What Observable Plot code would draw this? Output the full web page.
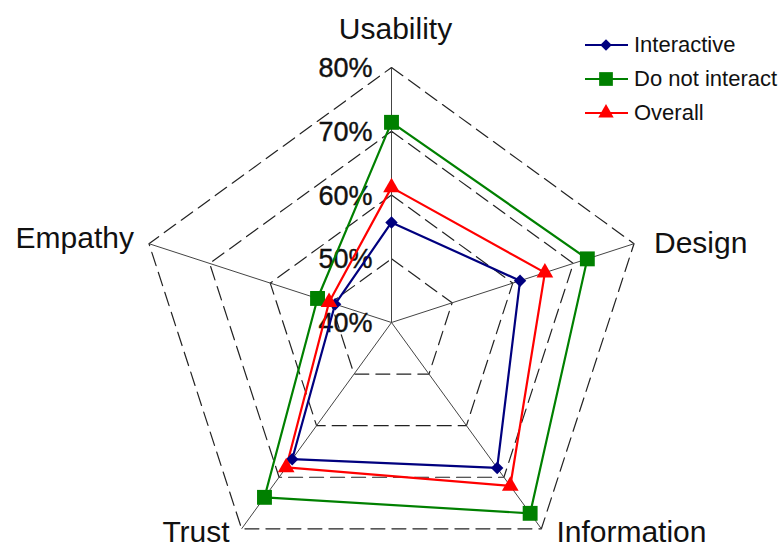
<!DOCTYPE html>
<html><head><meta charset="utf-8">
<script src="https://cdn.jsdelivr.net/npm/d3@7"></script>
<script src="https://cdn.jsdelivr.net/npm/@observablehq/plot@0.6"></script>
<style>
body{margin:0;background:#fff;}
#wrap{position:relative;width:782px;height:547px;overflow:hidden;font-family:"Liberation Sans",Arial,sans-serif;}
#legend{position:absolute;left:585px;top:28px;font-size:22px;color:#111;}
.item{display:flex;align-items:center;height:34px;white-space:nowrap;}
.item svg{margin-right:5px;}
</style></head><body><div id="wrap"><div id="chart"></div><div id="legend"></div></div>
<script>
// ---- data ----
const axes = ["Usability", "Design", "Information", "Trust", "Empathy"];
const interactive   = [55.7, 61.2, 68.2, 66.5, 49.3];
const doNotInteract = [71.4, 72.3, 77.0, 73.9, 52.2];
const overall       = [61.2, 65.3, 71.7, 68.1, 50.3];
const seriesNames = ["Interactive", "Do not interact", "Overall"];
const tickValues = [40, 50, 60, 70, 80];
const tickLabels = ["40%", "50%", "60%", "70%", "80%"];

// ---- layout / style ----
const W = 782, H = 547, cx = 391, cy = 322, k = 6.375, rMin = 40, rMax = 80;
const colors = ["#00007f", "#008000", "#ff0000"];
const symbols = ["diamond2", "square", "triangle"];
const dotR = [5.6, 8.4, 6.2];
const ang = i => i * 2 * Math.PI / axes.length;
const px = (v, i) => (v - rMin) * Math.sin(ang(i));
const py = (v, i) => (v - rMin) * Math.cos(ang(i));

const seriesValues = [interactive, doNotInteract, overall];
const rows = seriesNames.flatMap((s, si) => seriesValues[si].map((v, i) => ({series: s, axis: axes[i], i, v})));
const grid = tickValues.filter(t => t > rMin).flatMap(t => axes.map((a, i) => ({level: t, i})));
const axisRows = axes.map((a, i) => ({axis: a, i}));

const labelStyle = {
  "Usability":   {textAnchor: "middle", dx: 4,   dy: -38},
  "Design":      {textAnchor: "start",  dx: 20,  dy: 0},
  "Information": {textAnchor: "start",  dx: 15,  dy: 4},
  "Trust":       {textAnchor: "end",    dx: -12, dy: 4},
  "Empathy":     {textAnchor: "end",    dx: -15, dy: -5}
};

const marks = [
  Plot.line(grid, {x: d => px(d.level, d.i), y: d => py(d.level, d.i), z: "level", curve: "linear-closed",
    stroke: "#222", strokeWidth: 1.2, strokeDasharray: "14,7"}),
  Plot.link(axisRows, {x1: 0, y1: 0, x2: d => px(rMax, d.i), y2: d => py(rMax, d.i), stroke: "#444", strokeWidth: 1}),
  Plot.text(tickValues, {x: 0, y: v => v - rMin, text: (v, j) => tickLabels[j], textAnchor: "end", dx: -19, dy: 1,
    fontSize: 27, fill: "#111", stroke: "#111", strokeWidth: 0.4}),
  ...axisRows.map(d => Plot.text([d], {x: e => px(rMax, e.i), y: e => py(rMax, e.i), text: "axis",
    fontSize: 30, fill: "#111", lineAnchor: "middle", ...labelStyle[d.axis]})),
  Plot.line(rows, {x: d => px(d.v, d.i), y: d => py(d.v, d.i), z: "series", stroke: "series",
    curve: "linear-closed", strokeWidth: 2.2}),
  ...seriesNames.map((s, si) => Plot.dot(rows.filter(d => d.series === s),
    {x: d => px(d.v, d.i), y: d => py(d.v, d.i), symbol: "series", fill: "series", r: dotR[si]}))
];

const chart = Plot.plot({
  width: W, height: H, margin: 0,
  x: {domain: [-cx / k, (W - cx) / k], axis: null},
  y: {domain: [-(H - cy) / k, cy / k], axis: null},
  color: {domain: seriesNames, range: colors},
  symbol: {domain: seriesNames, range: symbols},
  style: {fontFamily: "'Liberation Sans', Arial, sans-serif", background: "#fff", overflow: "visible"},
  marks
});
document.getElementById("chart").appendChild(chart);

// legend
const legend = d3.select("#legend");
const symMap = {diamond2: d3.symbolDiamond2, square: d3.symbolSquare, triangle: d3.symbolTriangle};
seriesNames.forEach((s, si) => {
  const item = legend.append("div").attr("class", "item");
  const svg = item.append("svg").attr("width", 44).attr("height", 20);
  svg.append("line").attr("x1", 0).attr("x2", 43).attr("y1", 10).attr("y2", 10)
    .attr("stroke", colors[si]).attr("stroke-width", 2);
  svg.append("path").attr("transform", "translate(21,10)")
    .attr("d", d3.symbol(symMap[symbols[si]], Math.PI * dotR[si] * dotR[si] * 0.85)())
    .attr("fill", colors[si]);
  item.append("span").text(s);
});
</script></body></html>
